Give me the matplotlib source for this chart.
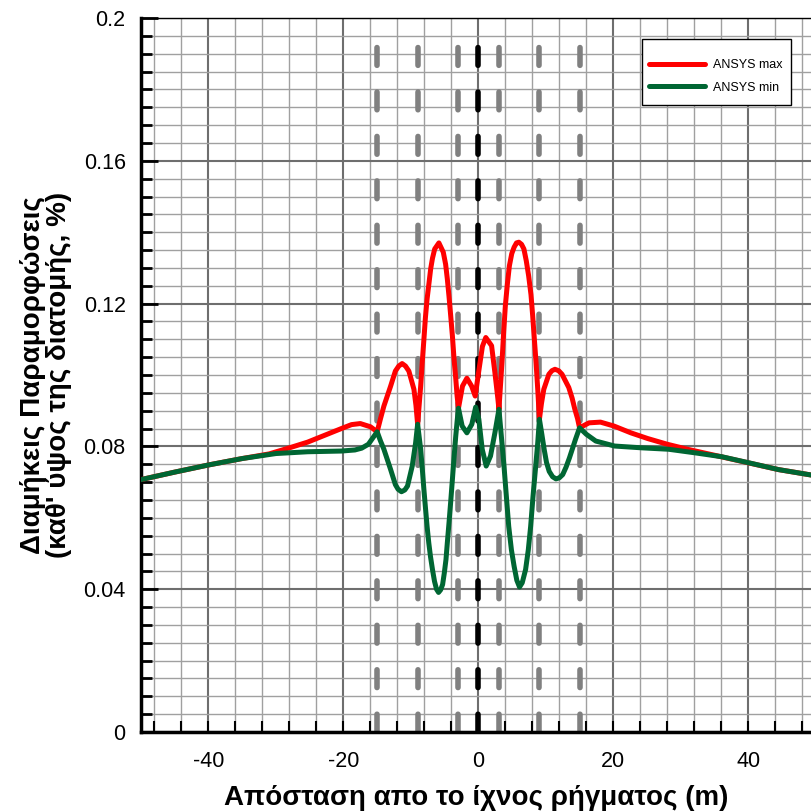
import matplotlib
matplotlib.use("Agg")
import matplotlib.pyplot as plt
from matplotlib.ticker import MultipleLocator
from matplotlib.patches import Rectangle

plt.rcParams['font.family'] = ['Liberation Sans', 'DejaVu Sans']

# ANSYS max (red)
x_max = [-50, -45, -40, -35, -31, -28, -25.3, -22.8, -20.3, -18.8, -17.5, -16, -15,
         -14.5, -14, -13, -12.3, -11.8, -11.3, -10.8, -10.3, -9.55, -9.25, -9,
         -8.55, -8.3, -8.07, -7.85, -7.6, -7.3, -7.07, -6.8, -6.47, -5.85, -5.2, -4.85,
         -4.6, -4.35, -4.1, -3.85, -3.6, -3.35, -3.15, -2.95,
         -2.35, -1.7, -1.0, -0.47, 0.1, 0.6, 1.1, 1.96, 2.45, 2.9, 3.05,
         3.5, 3.75, 4.0, 4.3, 4.6, 4.95, 5.3, 5.65, 6.0, 6.4, 6.75, 7.1, 7.45, 7.8,
         8.05, 8.3, 8.55, 8.8, 9.05,
         9.35, 9.7, 10.45, 10.9, 11.35, 11.9, 12.4, 13.4, 13.9, 14.3, 14.7, 15.0,
         16.4, 18.1, 20.1, 22.6, 25.1, 28.0, 31.0, 36, 40, 44.5, 49.6]
y_max = [0.0707, 0.0728, 0.0748, 0.0766, 0.0779, 0.0796, 0.0812, 0.0831, 0.0850, 0.0861, 0.0864, 0.0855, 0.0841,
         0.0878, 0.0913, 0.0969, 0.1011, 0.1025, 0.1032, 0.1025, 0.1011, 0.0960, 0.0915, 0.0862,
         0.0969, 0.1040, 0.1100, 0.1160, 0.1213, 0.1260, 0.1297, 0.1327, 0.1353, 0.1370, 0.1344, 0.1310,
         0.1269, 0.1220, 0.1166, 0.1110, 0.1044, 0.0990, 0.0941, 0.0907,
         0.0969, 0.0991, 0.0969, 0.0941, 0.1016, 0.1080, 0.1105, 0.1082, 0.1007, 0.0932, 0.0904,
         0.1035, 0.1120, 0.1194, 0.1255, 0.1306, 0.1340, 0.1358, 0.1370, 0.1372, 0.1366, 0.1353, 0.1320, 0.1278, 0.1225,
         0.1166, 0.1100, 0.1035, 0.0960, 0.0876,
         0.0920, 0.0960, 0.1002, 0.1012, 0.1016, 0.1012, 0.1002, 0.0965, 0.0935, 0.0904, 0.0878, 0.0852,
         0.0866, 0.0868, 0.0857, 0.0838, 0.0822, 0.0806, 0.0792, 0.0771, 0.0754, 0.0735, 0.0719]

# ANSYS min (green)
x_min = [-50, -45, -40, -35, -30, -25.3, -20.3, -18.3, -17.3, -16.3, -15,
         -14.5, -14, -13, -12.3, -11.9, -11.4, -10.9, -10.5, -9.8, -9.3, -9,
         -8.55, -8.3, -8.07, -7.85, -7.6, -7.35, -7.1, -6.8, -6.5, -6.2, -5.9, -5.6, -5.3, -5.05,
         -4.8, -4.6, -4.35, -4.1, -3.85, -3.6, -3.35, -3.15, -2.95,
         -2.4, -1.7, -0.97, -0.4, 0.07, 0.57, 1.16, 1.8, 2.45, 3.05,
         3.4, 3.8, 4.15, 4.5, 4.9, 5.3, 5.7, 6.1, 6.5, 7.0, 7.4, 7.75, 8.1, 8.5, 8.8, 9.05,
         9.4, 9.75, 10.1, 10.5, 11.0, 11.5, 12.0, 12.5, 13.0, 13.5, 14.4, 15.0,
         16.0, 17.4, 20.2, 24.2, 28.2, 32.1, 36.1, 40.1, 44.5, 49.6]
y_min = [0.0707, 0.0728, 0.0748, 0.0766, 0.0780, 0.0785, 0.0787, 0.0790, 0.0795, 0.0806, 0.0841,
         0.0815, 0.0792, 0.0735, 0.0693, 0.0680, 0.0673, 0.0678, 0.0689, 0.0745, 0.0810, 0.0862,
         0.0792, 0.0735, 0.0679, 0.0630, 0.0576, 0.0530, 0.0492, 0.0455, 0.0422, 0.0400, 0.0391, 0.0398, 0.0413, 0.0445,
         0.0483, 0.0530, 0.0586, 0.0645, 0.0707, 0.0770, 0.0829, 0.0870, 0.0907,
         0.0857, 0.0838, 0.0862, 0.0910, 0.0876, 0.0792, 0.0745, 0.0773, 0.0838, 0.0904,
         0.0830, 0.0745, 0.0660, 0.0576, 0.0510, 0.0464, 0.0425, 0.0406, 0.0418, 0.0455, 0.0510, 0.0576, 0.0660, 0.0745, 0.0810, 0.0876,
         0.0835, 0.0792, 0.0755, 0.0730, 0.0715, 0.0709, 0.0712, 0.0721, 0.0742, 0.0768, 0.0820, 0.0852,
         0.0834, 0.0815, 0.0801, 0.0796, 0.0792, 0.0782, 0.0771, 0.0754, 0.0735, 0.0719]

# vertical reference lines
gray_lines = [-15, -9, -3, 3, 9, 15]
center_line = 0

y_ticks = [0, 0.04, 0.08, 0.12, 0.16, 0.2]
y_tick_labels = ['0', '0.04', '0.08', '0.12', '0.16', '0.2']
x_ticks = [-40, -20, 0, 20, 40]
x_tick_labels = ['-40', '-20', '0', '20', '40']

W = 811
fig = plt.figure(figsize=(8.11, 8.11), dpi=100)
ax = fig.add_axes([141 / W, 79 / W, 670 / W, 714 / W])

ax.set_xlim(-50, 49.3)
ax.set_ylim(0, 0.2)

# grid
ax.xaxis.set_minor_locator(MultipleLocator(4))
ax.yaxis.set_minor_locator(MultipleLocator(0.005))
ax.set_xticks(x_ticks)
ax.set_xticklabels(x_tick_labels)
ax.set_yticks(y_ticks)
ax.set_yticklabels(y_tick_labels)
ax.grid(which='minor', color='#a0a0a0', linewidth=1.0, zorder=0)
ax.grid(which='major', color='#6e6e6e', linewidth=1.5, zorder=0)
ax.set_axisbelow(True)

# dashed verticals (they stop a little below the top)
dash = (0, (3.2, 4.8))
for xv in gray_lines:
    ax.axvline(xv, ymax=0.965, color='#808080', linewidth=4.0, linestyle=dash,
               dash_capstyle='round', zorder=2)
ax.axvline(center_line, ymax=0.965, color='black', linewidth=4.0, linestyle=dash,
           dash_capstyle='round', zorder=2)

ax.plot(x_max, y_max, color='#ff0000', linewidth=3.6, label='ANSYS max',
        solid_capstyle='round', solid_joinstyle='round', zorder=3)
ax.plot(x_min, y_min, color='#006633', linewidth=3.6, label='ANSYS min',
        solid_capstyle='round', solid_joinstyle='round', zorder=4)

# spines and ticks
ax.spines['left'].set_linewidth(2.5)
ax.spines['bottom'].set_linewidth(2.5)
ax.spines['top'].set_linewidth(1.0)
ax.spines['right'].set_visible(False)
ax.tick_params(axis='y', which='major', direction='in', length=12, width=2, pad=11,
               labelsize=15.5, right=False)
ax.tick_params(axis='y', which='minor', direction='in', length=8, width=2, right=False)
ax.tick_params(axis='x', which='both', direction='in', length=8, width=1.5, pad=14,
               labelsize=15.5, top=False)

ax.set_xlabel('Απόσταση απο το ίχνος ρήγματος (m)', fontsize=20, fontweight='bold',
              labelpad=9)
ax.set_ylabel('Διαμήκεις Παραμορφώσεις\n(καθ\' ύψος της διατομής, %)', fontsize=20,
              fontweight='bold', labelpad=8, linespacing=1.0)

# legend box drawn by hand, legend itself without frame
box = Rectangle((642 / W, 1 - 105 / W), 149 / W, 66 / W, transform=fig.transFigure,
                facecolor='white', edgecolor='black', linewidth=1.0, zorder=4.9,
                clip_on=False)
ax.add_patch(box)
leg = ax.legend(loc='upper left', bbox_to_anchor=(649 / W, 1 - 59 / W),
                bbox_transform=fig.transFigure, borderaxespad=0, borderpad=0,
                fontsize=9, frameon=False, handlelength=4.5, handletextpad=0.6,
                labelspacing=0.85)
leg.set_zorder(5)
for line in leg.get_lines():
    line.set_solid_capstyle('round')
    line.set_linewidth(3.6)

fig.savefig('out.png', dpi=100)
